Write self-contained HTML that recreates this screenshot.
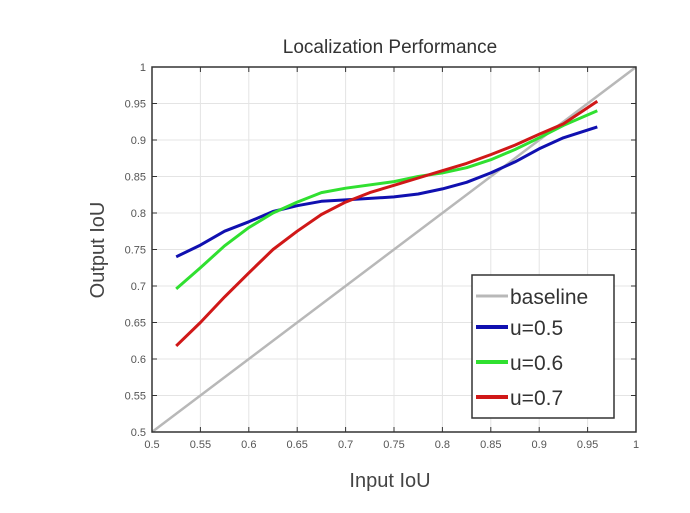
<!DOCTYPE html>
<html><head><meta charset="utf-8"><style>
body{margin:0;background:#fff;width:690px;height:513px;overflow:hidden}
svg{display:block;font-family:"Liberation Sans",sans-serif}
</style></head><body>
<svg id="s" width="690" height="513" xmlns="http://www.w3.org/2000/svg">
<rect width="690" height="513" fill="#fff"/>
<g id="grid"></g>
<g id="series"></g>
<rect x="152" y="67" width="484" height="365" fill="none" stroke="#333" stroke-width="1.5"/>
<text x="390" y="53" font-size="19" fill="#333" text-anchor="middle">Localization Performance</text>
<text x="390" y="487" font-size="20" fill="#444" text-anchor="middle">Input IoU</text>
<text transform="translate(104,250) rotate(-90)" font-size="20" fill="#444" text-anchor="middle">Output IoU</text>
<g id="legend">
<rect x="472" y="275" width="142" height="143" fill="#fff" stroke="#333" stroke-width="1.5"/>
<line x1="476" y1="296" x2="508" y2="296" stroke="#b8b8b8" stroke-width="3"/>
<text x="510" y="304" font-size="21" fill="#333">baseline</text>
<line x1="476" y1="327" x2="508" y2="327" stroke="#1010b0" stroke-width="4"/>
<text x="510" y="335" font-size="21" fill="#333">u=0.5</text>
<line x1="476" y1="362" x2="508" y2="362" stroke="#30e030" stroke-width="4"/>
<text x="510" y="370" font-size="21" fill="#333">u=0.6</text>
<line x1="476" y1="397" x2="508" y2="397" stroke="#d01818" stroke-width="4"/>
<text x="510" y="405" font-size="21" fill="#333">u=0.7</text>
</g>
</svg>
<script>
var L=152,R=636,T=67,B=432;
function X(v){return L+(v-0.5)/0.5*(R-L)}
function Y(v){return B-(v-0.5)/0.5*(B-T)}
var ns="http://www.w3.org/2000/svg",g=document.getElementById('grid'),h='';
for(var i=0;i<=10;i++){var v=0.5+i*0.05,x=X(v),y=Y(v);
 var lab=(Math.round(v*100)/100).toString();
 if(i>0&&i<10){h+='<line x1="'+x+'" y1="'+T+'" x2="'+x+'" y2="'+B+'" stroke="#e4e4e4"/>';
 h+='<line x1="'+L+'" y1="'+y+'" x2="'+R+'" y2="'+y+'" stroke="#e4e4e4"/>';
 h+='<line x1="'+x+'" y1="'+B+'" x2="'+x+'" y2="'+(B-5)+'" stroke="#333"/><line x1="'+x+'" y1="'+T+'" x2="'+x+'" y2="'+(T+5)+'" stroke="#333"/>';
 h+='<line x1="'+L+'" y1="'+y+'" x2="'+(L+5)+'" y2="'+y+'" stroke="#333"/><line x1="'+R+'" y1="'+y+'" x2="'+(R-5)+'" y2="'+y+'" stroke="#333"/>';}
 h+='<text x="'+x+'" y="'+(B+16)+'" font-size="11" fill="#555" text-anchor="middle">'+lab+'</text>';
 h+='<text x="'+(L-6)+'" y="'+(y+4)+'" font-size="11" fill="#555" text-anchor="end">'+lab+'</text>';}
g.innerHTML=h;
var blue=[[0.525,0.74],[0.55,0.756],[0.575,0.775],[0.6,0.788],[0.625,0.802],[0.65,0.81],[0.675,0.816],[0.7,0.818],[0.75,0.822],[0.775,0.826],[0.8,0.833],[0.825,0.842],[0.85,0.855],[0.875,0.87],[0.9,0.888],[0.925,0.903],[0.96,0.918]];
var green=[[0.525,0.696],[0.55,0.725],[0.575,0.755],[0.6,0.78],[0.625,0.8],[0.65,0.815],[0.675,0.828],[0.7,0.834],[0.75,0.843],[0.775,0.85],[0.8,0.855],[0.825,0.862],[0.85,0.873],[0.875,0.887],[0.9,0.903],[0.925,0.92],[0.96,0.94]];
var red=[[0.525,0.618],[0.55,0.65],[0.575,0.685],[0.6,0.718],[0.625,0.75],[0.65,0.775],[0.675,0.798],[0.7,0.815],[0.725,0.828],[0.75,0.838],[0.775,0.848],[0.8,0.858],[0.825,0.868],[0.85,0.88],[0.875,0.893],[0.9,0.908],[0.925,0.922],[0.96,0.953]];
function pl(d,c,w){return '<polyline fill="none" stroke-linejoin="round" stroke="'+c+'" stroke-width="'+w+'" points="'+d.map(function(p){return X(p[0]).toFixed(1)+','+Y(p[1]).toFixed(1)}).join(' ')+'"/>';}
document.getElementById('series').innerHTML=pl([[0.5,0.5],[1,1]],'#b8b8b8',2.5)+pl(blue,'#1010b0',3)+pl(green,'#30e030',3)+pl(red,'#d01818',3);
</script>
</body></html>
